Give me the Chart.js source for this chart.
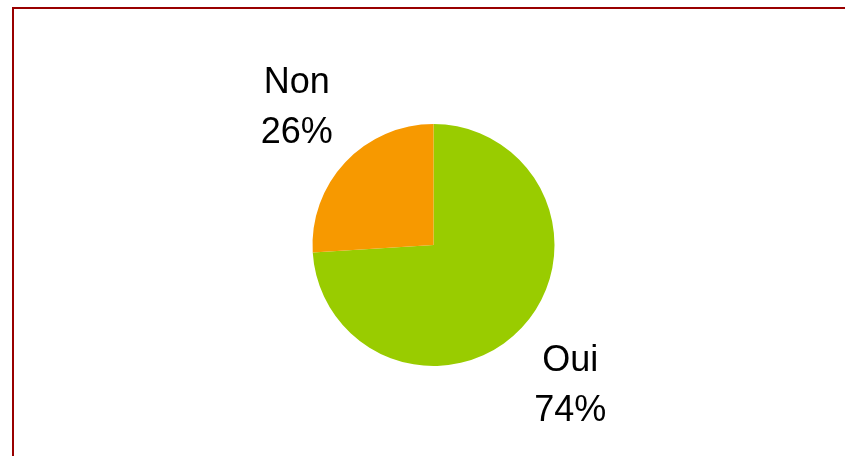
<!DOCTYPE html>
<html>
<head>
<meta charset="utf-8">
<script src="https://cdn.jsdelivr.net/npm/chart.js@4"></script>
<style>
  html, body { margin: 0; padding: 0; background: #ffffff; }
  #wrap { width: 845px; height: 456px; position: relative; }
</style>
</head>
<body>
<div id="wrap"><canvas id="c" width="845" height="456"></canvas></div>
<script>
const categories = ["Oui", "Non"];
const values = [74, 26];
const sliceColors = ["#99CC00", "#F79900"];
const percentLabels = ["74%", "26%"];

const framePlugin = {
  id: 'frame',
  beforeDraw(chart) {
    const ctx = chart.ctx;
    ctx.save();
    ctx.fillStyle = '#ffffff';
    ctx.fillRect(0, 0, chart.width, chart.height);
    ctx.strokeStyle = '#990000';
    ctx.lineWidth = 2;
    ctx.beginPath();
    ctx.moveTo(13, chart.height);
    ctx.lineTo(13, 8);
    ctx.lineTo(chart.width, 8);
    ctx.stroke();
    ctx.restore();
  }
};

const labelPlugin = {
  id: 'sliceLabels',
  afterDatasetsDraw(chart) {
    const ctx = chart.ctx;
    const meta = chart.getDatasetMeta(0);
    ctx.save();
    ctx.font = '36px "Liberation Sans", Arial, sans-serif';
    ctx.fillStyle = '#000000';
    ctx.textAlign = 'center';
    ctx.textBaseline = 'middle';
    meta.data.forEach((arc, i) => {
      const p = arc.getProps(['x', 'y', 'startAngle', 'endAngle', 'outerRadius'], true);
      const mid = (p.startAngle + p.endAngle) / 2;
      const cx = p.x + Math.cos(mid) * p.outerRadius * 1.55;
      const cy = p.y + Math.sin(mid) * p.outerRadius * 1.68 + 2;
      const lh = 50;
      ctx.fillText(categories[i], cx, cy - lh / 2);
      ctx.fillText(percentLabels[i], cx, cy + lh / 2);
    });
    ctx.restore();
  }
};

new Chart(document.getElementById('c'), {
  type: 'pie',
  data: {
    labels: categories,
    datasets: [{
      data: values,
      backgroundColor: sliceColors,
      borderWidth: 0
    }]
  },
  options: {
    responsive: false,
    animation: false,
    layout: { padding: { top: 124, bottom: 90, left: 312, right: 290 } },
    plugins: {
      legend: { display: false },
      tooltip: { enabled: false }
    }
  },
  plugins: [framePlugin, labelPlugin]
});
</script>
</body>
</html>
